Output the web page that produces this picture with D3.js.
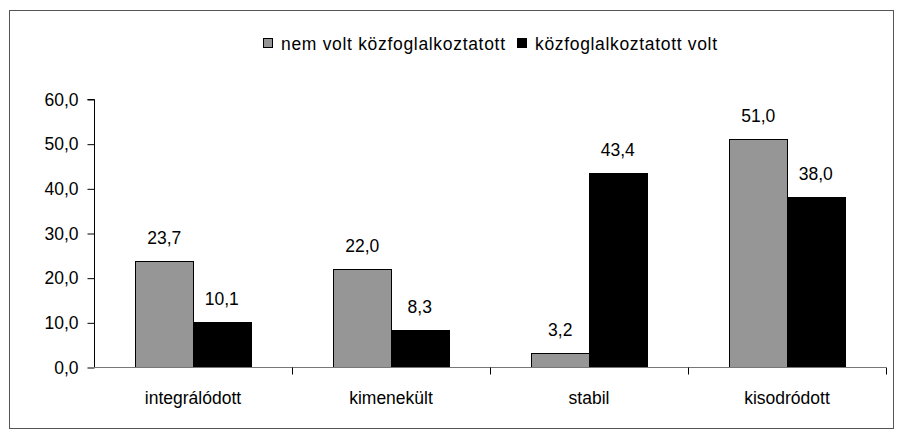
<!DOCTYPE html>
<html lang="hu">
<head>
    <meta charset="UTF-8">
    <style>
        body { margin: 0; background: #fff; }
        svg text { font-family: "Liberation Sans", Arial, sans-serif; font-size: 17.5px; fill: #000; }
    </style>
    <script src="https://d3js.org/d3.v7.min.js"></script>
    <title>Közfoglalkoztatás</title>
</head>
<body>
    <svg width="905" height="439"></svg>
    <script>
        // data
        var categories = ["integrálódott", "kimenekült", "stabil", "kisodródott"];
        var seriesNames = ["nem volt közfoglalkoztatott", "közfoglalkoztatott volt"];
        var nemVolt = [23.7, 22.0, 3.2, 51.0];
        var volt = [10.1, 8.3, 43.4, 38.0];
        var yTicks = [0, 10, 20, 30, 40, 50, 60];

        var colors = ["#969696", "#000000"];
        var svg = d3.select("svg");

        // outer frame
        svg.append("rect")
           .attr("x", 9.5).attr("y", 10.5)
           .attr("width", 884).attr("height", 418)
           .attr("fill", "none").attr("stroke", "#555");

        var plotL = 94, plotR = 886, plotT = 99, plotB = 367;

        var x = d3.scaleBand().domain(categories).range([plotL, plotR]).paddingInner(0).paddingOuter(0);
        var x1 = d3.scaleBand().domain([0, 1]).range([0, x.bandwidth()]).paddingOuter(0.72).paddingInner(0);
        var y = d3.scaleLinear().domain([0, 60]).range([plotB, plotT]);
        var fmt = function(v) { return v.toFixed(1).replace(".", ","); };

        // bars
        var series = [nemVolt, volt];
        series.forEach(function(vals, si) {
            var g = svg.append("g");
            g.selectAll("rect")
             .data(vals)
             .enter().append("rect")
             .attr("x", function(d, i) { return Math.round(x(categories[i]) + x1(si)) + 0.5; })
             .attr("y", function(d) { return Math.round(y(d)) + 0.5; })
             .attr("width", Math.round(x1.bandwidth()))
             .attr("height", function(d) { return plotB - Math.round(y(d)); })
             .attr("fill", colors[si])
             .attr("stroke", "#000")
             .attr("stroke-width", 1);

            g.selectAll("text")
             .data(vals)
             .enter().append("text")
             .attr("x", function(d, i) { return x(categories[i]) + x1(si) + x1.bandwidth() / 2; })
             .attr("y", function(d) { return y(d) - 17; })
             .attr("text-anchor", "middle")
             .text(fmt);
        });

        // y axis
        var yAxis = svg.append("g")
            .attr("transform", "translate(" + (plotL + 0.5) + ",0.5)")
            .call(d3.axisLeft(y).tickValues(yTicks).tickSize(7).tickPadding(9).tickFormat(fmt));
        yAxis.selectAll("path, line").attr("stroke", "#000");
        yAxis.select(".domain").attr("d", "M-7," + plotT + "H0V" + plotB);
        yAxis.selectAll("text").style("font-size", "17.5px").style("font-family", "'Liberation Sans', Arial, sans-serif");

        // x axis
        var xAxis = svg.append("g").attr("transform", "translate(0," + (plotB + 0.5) + ")");
        xAxis.append("line").attr("x1", plotL).attr("x2", plotR).attr("stroke", "#777");
        xAxis.selectAll(".tk")
             .data(categories.map(function(c) { return x(c) + x.bandwidth() + 0.5; }))
             .enter().append("line")
             .attr("x1", function(d) { return d; }).attr("x2", function(d) { return d; })
             .attr("y1", 0).attr("y2", 7).attr("stroke", "#000");
        xAxis.selectAll("text")
             .data(categories)
             .enter().append("text")
             .attr("x", function(d) { return x(d) + x.bandwidth() / 2; })
             .attr("y", 36)
             .attr("text-anchor", "middle")
             .text(function(d) { return d; });

        // legend
        var legendX = [263, 517];
        var legendLen = [224, 182];
        var legend = svg.selectAll(".lg")
            .data(seriesNames)
            .enter().append("g")
            .attr("transform", function(d, i) { return "translate(" + legendX[i] + ",38)"; });
        legend.append("rect")
              .attr("x", 0.5).attr("y", 0.5).attr("width", 9).attr("height", 9)
              .attr("fill", function(d, i) { return colors[i]; })
              .attr("stroke", "#000").attr("stroke-width", 1);
        legend.append("text")
              .attr("x", 18).attr("y", 12)
              .attr("textLength", function(d, i) { return legendLen[i]; })
              .attr("lengthAdjust", "spacing")
              .text(function(d) { return d; });
    </script>
</body>
</html>
